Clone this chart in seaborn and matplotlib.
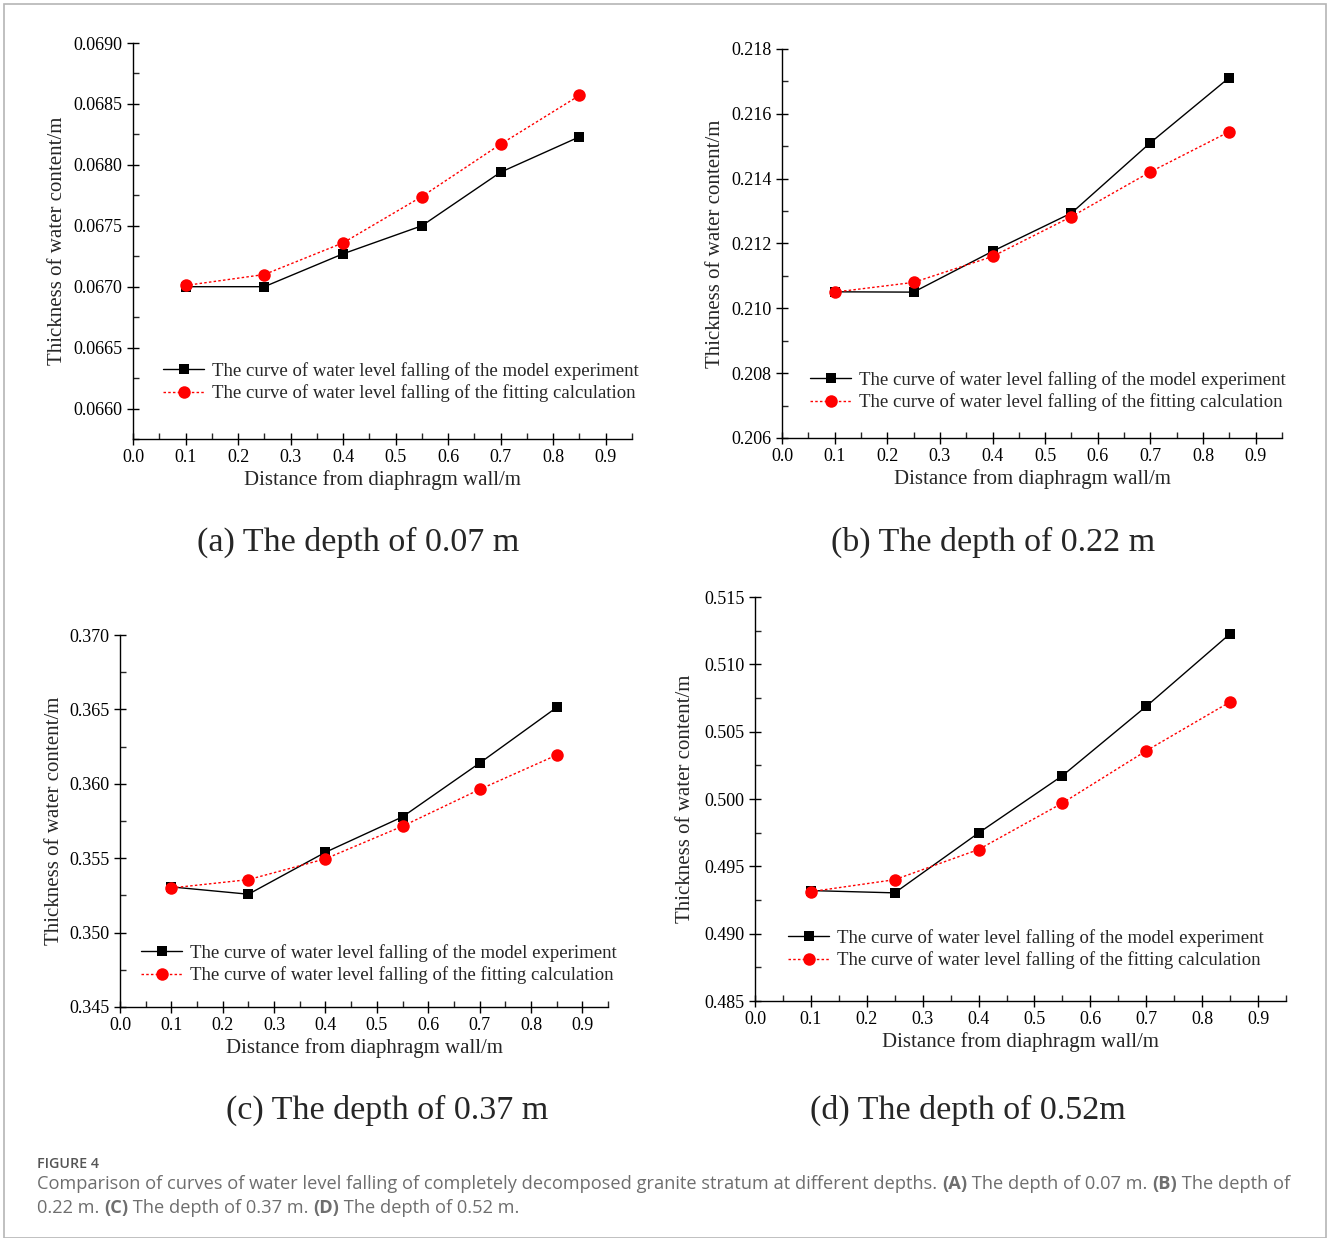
import numpy as np
import pandas as pd
import matplotlib
matplotlib.use("Agg")
import matplotlib.pyplot as plt
from matplotlib.patches import Rectangle
from matplotlib.ticker import MultipleLocator, FormatStrFormatter
import seaborn as sns

# ---- data -------------------------------------------------------------
distance = [0.10, 0.25, 0.40, 0.55, 0.70, 0.85]

exp_a = [0.06700, 0.06700, 0.06727, 0.06750, 0.06794, 0.06823]
fit_a = [0.06701, 0.06710, 0.06736, 0.06774, 0.06817, 0.06857]

exp_b = [0.21051, 0.21050, 0.21176, 0.21294, 0.21511, 0.21712]
fit_b = [0.21050, 0.21080, 0.21160, 0.21283, 0.21421, 0.21545]

exp_c = [0.35307, 0.35258, 0.35540, 0.35778, 0.36139, 0.36513]
fit_c = [0.35300, 0.35356, 0.35496, 0.35715, 0.35962, 0.36193]

exp_d = [0.49320, 0.49303, 0.49748, 0.50173, 0.50688, 0.51227]
fit_d = [0.49312, 0.49401, 0.49625, 0.49970, 0.50358, 0.50721]

series_names = ["The curve of water level falling of the model experiment",
                "The curve of water level falling of the fitting calculation"]
panel_titles = ["(a) The depth of 0.07 m", "(b) The depth of 0.22 m",
                "(c) The depth of 0.37 m", "(d) The depth of 0.52m"]
x_label = "Distance from diaphragm wall/m"
y_label = "Thickness of water content/m"
x_ticks = [0.0, 0.1, 0.2, 0.3, 0.4, 0.5, 0.6, 0.7, 0.8, 0.9]

# ---- styling ------------------------------------------------------------
sns.set_style("ticks")
plt.rcParams["font.family"] = ["Liberation Serif", "DejaVu Serif"]
plt.rcParams["mathtext.fontset"] = "stix"

W, H = 1328, 1238
fig = plt.figure(figsize=(W / 100, H / 100), dpi=100)


def px_axes(left, top, right, bottom):
    return fig.add_axes([left / W, 1 - bottom / H, (right - left) / W, (bottom - top) / H])


panels = [
    dict(box=(133, 43, 632, 439), exp=exp_a, fit=fit_a, ylim=(0.06575, 0.0690),
         ymaj=0.0005, fmt="%.4f", leg=(163, 362), title=(358, 542),
         ylab_x=58),
    dict(box=(782, 49, 1282, 438), exp=exp_b, fit=fit_b, ylim=(0.206, 0.218),
         ymaj=0.002, fmt="%.3f", leg=(810, 371), title=(993, 542),
         ylab_x=715),
    dict(box=(120, 635, 608, 1007), exp=exp_c, fit=fit_c, ylim=(0.345, 0.370),
         ymaj=0.005, fmt="%.3f", leg=(141, 944), title=(387, 1110),
         ylab_x=55),
    dict(box=(755, 597, 1286, 1001), exp=exp_d, fit=fit_d, ylim=(0.485, 0.515),
         ymaj=0.005, fmt="%.3f", leg=(788, 929), title=(968, 1110),
         ylab_x=685),
]

for p, title in zip(panels, panel_titles):
    l, t, r, b = p["box"]
    ax = px_axes(l, t, r, b)
    df = pd.DataFrame({"x": distance, "exp": p["exp"], "fit": p["fit"]})
    sns.lineplot(data=df, x="x", y="exp", ax=ax, color="black", lw=1.0,
                 marker="s", markersize=7, markeredgewidth=0,
                 label=series_names[0])
    sns.lineplot(data=df, x="x", y="fit", ax=ax, color="#ff0000", lw=1.0,
                 linestyle=(0, (1.8, 1.6)), marker="o", markersize=9,
                 markeredgewidth=0, label=series_names[1])

    ax.set_xlim(0, 0.95)
    ax.set_ylim(*p["ylim"])
    ax.set_xticks(x_ticks)
    ax.xaxis.set_major_formatter(FormatStrFormatter("%.1f"))
    ax.xaxis.set_minor_locator(MultipleLocator(0.05))
    ax.yaxis.set_major_locator(MultipleLocator(p["ymaj"]))
    ax.yaxis.set_minor_locator(MultipleLocator(p["ymaj"] / 2))
    ax.yaxis.set_major_formatter(FormatStrFormatter(p["fmt"]))
    for s in ("top", "right"):
        ax.spines[s].set_visible(False)
    for s in ("left", "bottom"):
        ax.spines[s].set_linewidth(1.0)
        ax.spines[s].set_color("black")
    ax.tick_params(which="major", direction="inout", length=9, width=1.0,
                   labelsize=13, colors="black", pad=3)
    ax.tick_params(which="minor", direction="in", length=4, width=1.0)
    ax.set_xlabel(x_label, fontsize=15, labelpad=3)
    ax.set_ylabel("")
    fig.text(p["ylab_x"] / W, 1 - ((t + b) / 2) / H, y_label, rotation=90,
             fontsize=15, ha="center", va="center")

    lx, ly = p["leg"]
    ax.legend(loc="upper left",
              bbox_to_anchor=((lx - l) / (r - l), (b - ly) / (b - t)),
              frameon=False, fontsize=13.5, handlelength=2.2,
              handletextpad=0.4, labelspacing=0.25, borderpad=0,
              borderaxespad=0)

    tx, ty = p["title"]
    fig.text(tx / W, 1 - ty / H, title, fontsize=24.5, ha="center", va="center")

# ---- caption --------------------------------------------------------------
fig.add_artist(Rectangle((4 / W, 0), (1326 - 4) / W, 1 - 4 / H,
                         transform=fig.transFigure, fill=False,
                         edgecolor="#b5b5b5", lw=1.2))

cap_font = ["Open Sans", "DejaVu Sans"]
fig.text(37 / W, 1 - 1164 / H, "FIGURE 4", fontsize=10.3, color="#555555",
         family=cap_font, ha="left", va="center", weight="semibold")

caption_lines = [
    [("Comparison of curves of water level falling of completely decomposed granite "
      "stratum at different depths. ", "normal"), ("(A)", "bold"),
     (" The depth of 0.07 m. ", "normal"), ("(B)", "bold"), (" The depth of", "normal")],
    [("0.22 m. ", "normal"), ("(C)", "bold"), (" The depth of 0.37 m. ", "normal"),
     ("(D)", "bold"), (" The depth of 0.52 m.", "normal")],
]
renderer = fig.canvas.get_renderer()
for line, ypx in zip(caption_lines, (1184, 1208)):
    x = 37
    for txt, wt in line:
        t_art = fig.text(x / W, 1 - ypx / H, txt, fontsize=13.15, color="#6e6e6e",
                         family=cap_font, weight=wt, ha="left", va="center")
        bb = t_art.get_window_extent(renderer=renderer)
        x += bb.width

fig.savefig("out.png", dpi=100)
